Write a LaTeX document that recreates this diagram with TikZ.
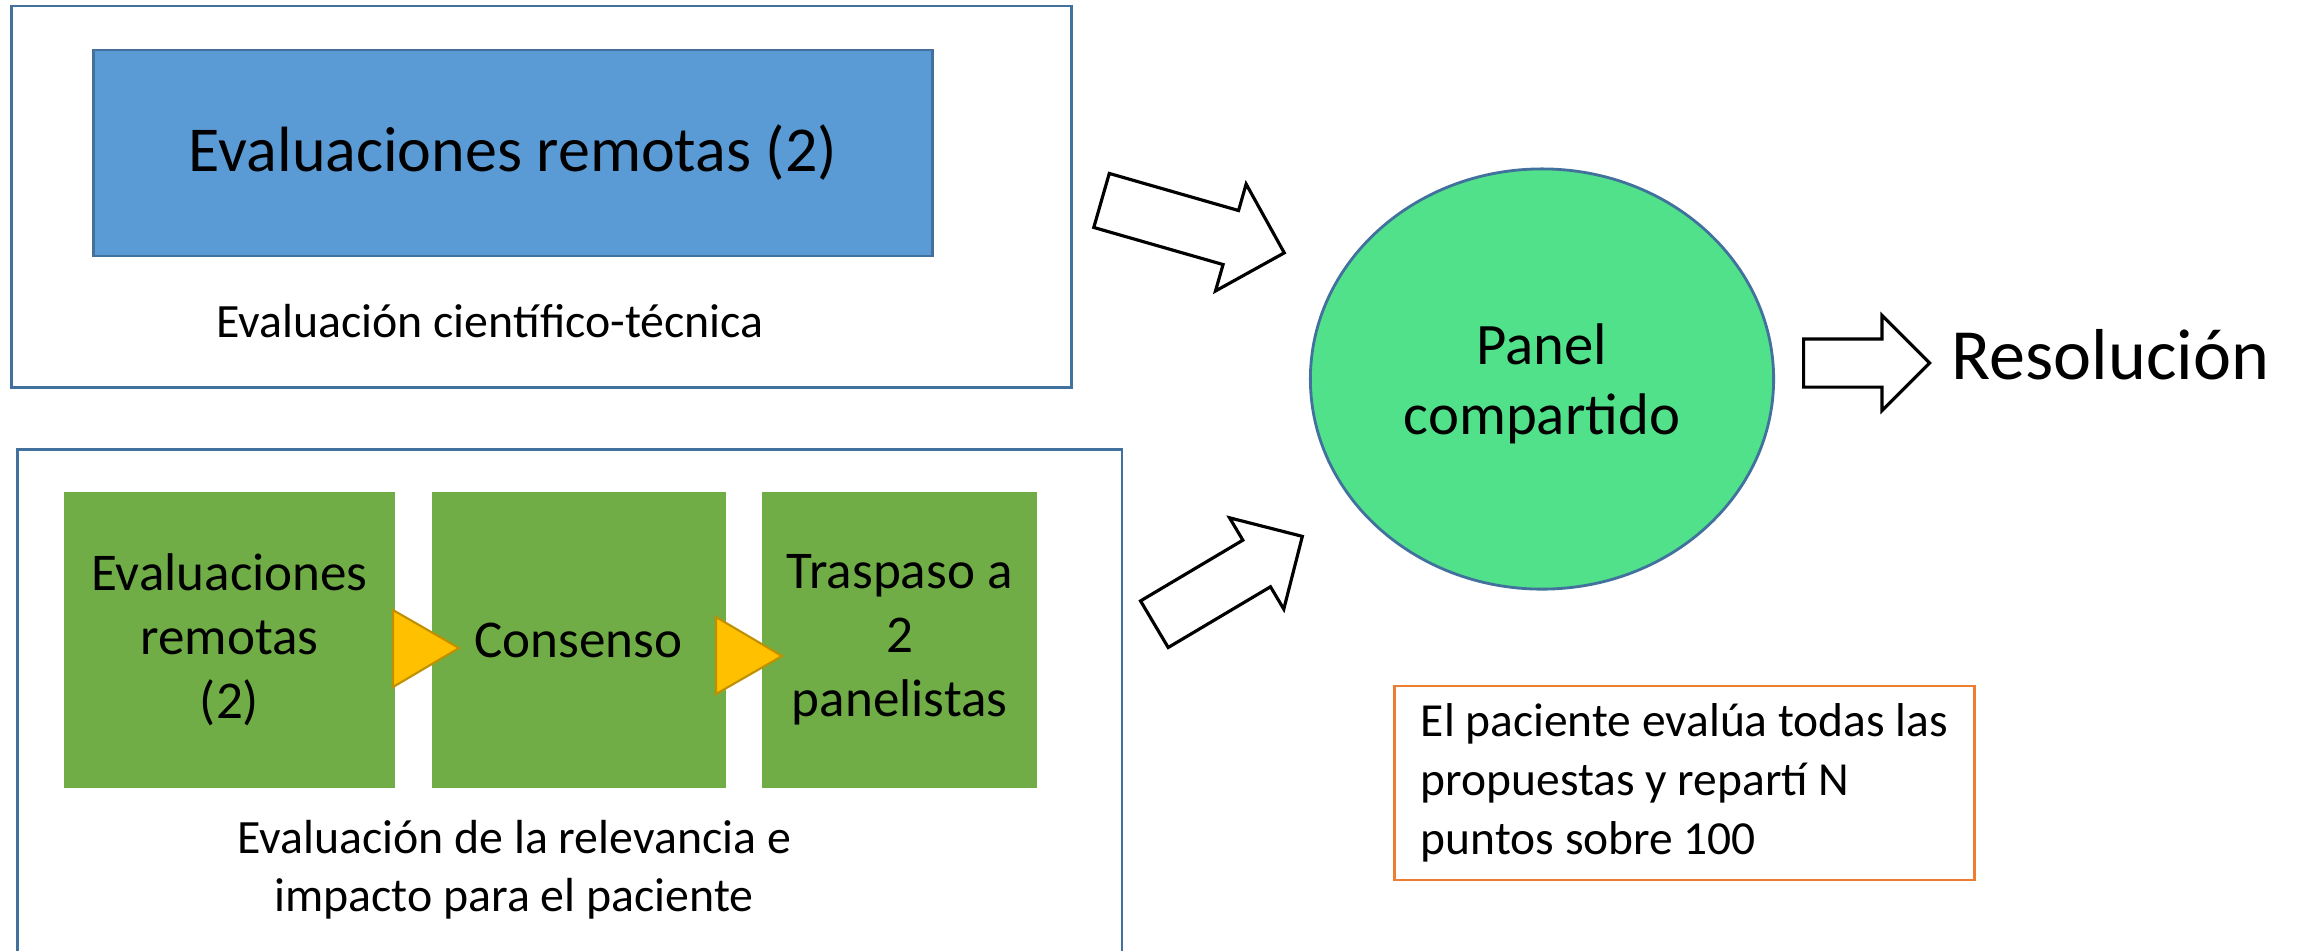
\documentclass[tikz,border=0pt]{standalone}
\usepackage{fontspec}
\setmainfont{Carlito}
\usepackage{tikz}
\usetikzlibrary{positioning,shapes.geometric,shapes.arrows}

\definecolor{boxline}{RGB}{65,113,156}
\definecolor{bluefill}{RGB}{91,155,213}
\definecolor{greenfill}{RGB}{112,173,71}
\definecolor{panelfill}{RGB}{80,225,138}
\definecolor{yellowfill}{RGB}{255,192,0}
\definecolor{yellowline}{RGB}{191,144,0}
\definecolor{orangeline}{RGB}{237,125,49}

\begin{document}
\begin{tikzpicture}[x=0.01cm, y=-0.01cm, node distance=0.35cm,
    every node/.style={font=\fontsize{13.6}{16.5}\selectfont},
    group/.style={rectangle, draw=boxline, line width=0.8pt, inner sep=0pt},
    stage/.style={rectangle, fill=greenfill, minimum height=2.95cm, inner sep=0pt, align=center, font=\fontsize{15.1}{18.2}\selectfont},
    flowtip/.style={fill=yellowfill, draw=yellowline, line width=0.6pt},
    bigarrow/.style={single arrow, draw=black, fill=white, line width=0.9pt, inner xsep=0pt, anchor=tail}]
    \clip (0,0) rectangle (2297,950);
    % upper block: scientific evaluation
    \node[group, minimum width=10.59cm, minimum height=3.81cm] (scibox) at (541.5,196.5) {};
    \node[rectangle, draw=boxline, line width=0.8pt, fill=bluefill, minimum width=8.38cm, minimum height=2.06cm, font=\fontsize{18.2}{21}\selectfont] (remote) at (513,153) {Evaluaciones remotas (2)};
    \node[anchor=base] (scicap) at (490,337) {Evaluación científico-técnica};
    % lower block: patient evaluation
    \node[group, minimum width=11.04cm, minimum height=6cm, anchor=north west] (patbox) at (16,448) {};
    \node[stage, minimum width=3.31cm] (evalstage) at (229.5,640) {Evaluaciones\\remotas\\(2)};
    \node[stage, minimum width=2.94cm, right=of evalstage] (consenso) {Consenso};
    \node[stage, minimum width=2.75cm, right=of consenso] (traspaso) {Traspaso a\\2\\panelistas};
    \draw[flowtip] (393,610) -- (459,648) -- (393,687) -- cycle;
    \draw[flowtip] (716,617) -- (782,656) -- (716,694) -- cycle;
    \node[align=center] (patcap) at (514,870) {Evaluación de la relevancia e\\impacto para el paciente};
    % panel and result
    \node[ellipse, draw=boxline, line width=0.8pt, fill=panelfill, minimum width=4.63cm, minimum height=4.2cm, align=center, text depth=0pt, font=\fontsize{16.7}{20}\selectfont] (panel) at (1542,379) {Panel\\compartido};
    \node[bigarrow, minimum height=1.90cm, minimum width=1.08cm, inner ysep=0.265cm, single arrow head extend=0.275cm, rotate=-16] (sciarrow) at (1100,200) {};
    \node[bigarrow, minimum height=1.72cm, minimum width=1.03cm, inner ysep=0.255cm, single arrow head extend=0.26cm, rotate=30.7] (patarrow) at (1153,625) {};
    \node[bigarrow, minimum height=1.26cm, minimum width=0.92cm, inner ysep=0.225cm, single arrow head extend=0.235cm] (resarrow) at (1802,363) {};
    \node[anchor=base west, inner sep=0pt, font=\fontsize{20.5}{24}\selectfont] (resol) at (1951,379) {Resolución};
    \node[rectangle, draw=orangeline, line width=0.8pt, minimum width=5.79cm, minimum height=1.94cm, align=left, font=\fontsize{13.5}{16.8}\selectfont] (patnote) at (1684.5,783) {El paciente evalúa todas las\\propuestas y repartí N\\puntos sobre 100};
\end{tikzpicture}
\end{document}
